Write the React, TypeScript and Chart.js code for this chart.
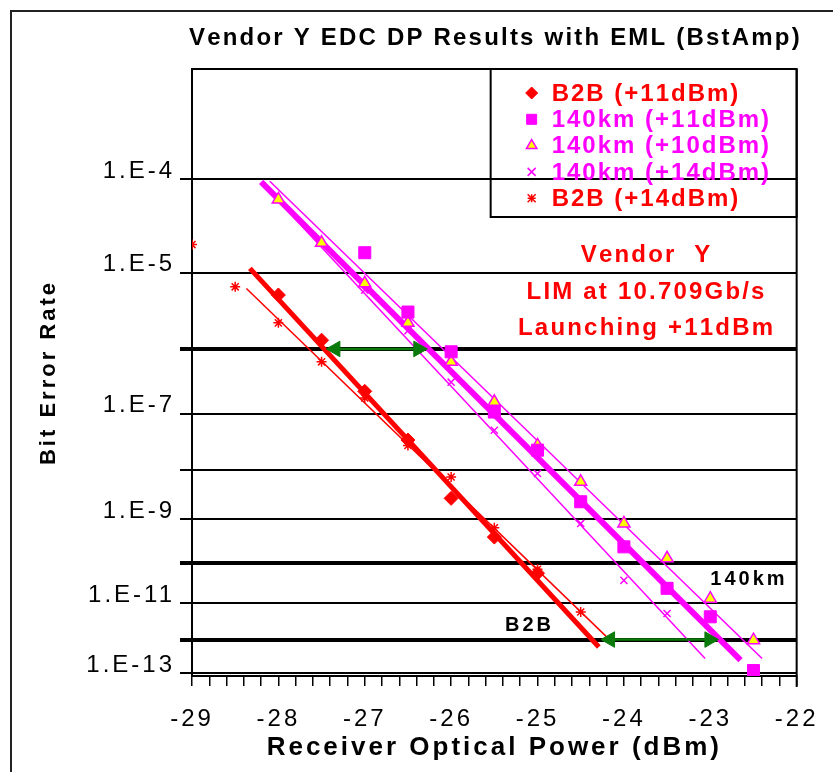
import React, { useEffect, useRef } from 'react';
import { Chart, registerables } from 'chart.js';

Chart.register(...registerables);

const FONT = '"Liberation Sans", Arial, Helvetica, sans-serif';
const RED = '#ff0000';
const MAG = '#ff00ff';
const YEL = '#ffff00';
const GREEN = '#0a7a0a';

// ---- axes ----
const xMin = -29;
const xMax = -22;
const xStep = 0.2;
const berAxisTop = 8.37e-4;
const berAxisBottom = 8.13e-14;
const berTicks = [1e-4, 1e-5, 1e-6, 1e-7, 1e-8, 1e-9, 1e-10, 1e-11, 1e-12, 1e-13];
const berTickLabels = ['1.E-4', '1.E-5', '', '1.E-7', '', '1.E-9', '', '1.E-11', '', '1.E-13'];
const berThickLines = [1e-6, 1e-10, 1e-12];

// ---- measured series ----
const b2b11Power = [-28, -27.5, -27, -26.5, -26, -25.5, -25];
const b2b11Ber = [5.3e-6, 1.33e-6, 2.3e-7, 3.5e-8, 2.7e-9, 4.0e-10, 5.7e-11];

const km140p11Power = [-27, -26.5, -26, -25.5, -25, -24.5, -24, -23.5, -23, -22.5];
const km140p11Ber = [1.7e-5, 3.2e-6, 9.1e-7, 1.06e-7, 2.3e-8, 2.3e-9, 2.4e-10, 2.4e-11, 4.3e-12, 1.2e-13];

const km140p10Power = [-28, -27.5, -27, -26.5, -26, -25.5, -25, -24.5, -24, -23.5, -23, -22.5];
const km140p10Ber = [6.3e-5, 2.2e-5, 7.4e-6, 2.3e-6, 6.5e-7, 1.56e-7, 2.8e-8, 5.8e-9, 8.0e-10, 1.3e-10, 1.3e-11, 9.6e-13];

const km140p14Power = [-27, -26.5, -26, -25.5, -25, -24.5, -24, -23.5];
const km140p14Ber = [6.1e-6, 1.8e-6, 3.2e-7, 5.2e-8, 8.4e-9, 8.0e-10, 3.8e-11, 5.3e-12];

const b2b14Power = [-29, -28.5, -28, -27.5, -27, -26.5, -26, -25.5, -25, -24.5];
const b2b14Ber = [2.1e-5, 6.7e-6, 2.3e-6, 6.5e-7, 1.8e-7, 2.8e-8, 7.2e-9, 6.4e-10, 7.1e-11, 5.8e-12];

// ---- fitted lines (end points) ----
const fitB2b11Power = [-28.33, -24.29];
const fitB2b11Ber = [1.12e-5, 6.1e-13];
const fitB2b14Power = [-28.37, -24.2];
const fitB2b14Ber = [6.4e-6, 1.19e-12];
const fit140p11Power = [-28.2, -22.65];
const fit140p11Ber = [9.4e-5, 2.5e-13];
const fit140p10Power = [-28.1, -22.4];
const fit140p10Ber = [9.5e-5, 2.8e-13];
const fit140p14Power = [-28.16, -23.06];
const fit140p14Ber = [8.5e-5, 2.8e-13];

// ---- penalty arrows ----
const arrowLevels = [1e-6, 1e-12];
const arrowLowPower = [-27.34, -24.16];
const arrowHighPower = [-26.38, -23.01];

// ---- annotations ----
const noteLines = ['Vendor  Y', 'LIM at 10.709Gb/s', 'Launching +11dBm'];
const notePower = -23.75;
const noteBer = [1.59e-5, 5.7e-6, 1.95e-6];
const tagTexts = ['140km', 'B2B'];
const tagPower = [-22.57, -25.11];
const tagBer = [4.1e-11, 2.5e-12];

const chartTitle = 'Vendor Y EDC DP Results with EML (BstAmp)';
const xTitle = 'Receiver Optical Power (dBm)';
const yTitle = 'Bit Error Rate';

// BER -> log(-log(BER)) transform
const tf = (b: number) => Math.log10(-Math.log10(b));
const toPts = (xs: number[], bs: number[]) => xs.map((x, i) => ({ x, y: tf(bs[i]) }));

type MarkerDef = {
  label: string; power: number[]; ber: number[]; style: string;
  color: string; fill: string; radius: number; lw: number; legendR: number;
};

const markerSeries: MarkerDef[] = [
  { label: 'B2B (+11dBm)', power: b2b11Power, ber: b2b11Ber, style: 'rectRot', color: RED, fill: RED, radius: 7, lw: 1, legendR: 6 },
  { label: '140km (+11dBm)', power: km140p11Power, ber: km140p11Ber, style: 'rect', color: MAG, fill: MAG, radius: 8.5, lw: 1, legendR: 5 },
  { label: '140km (+10dBm)', power: km140p10Power, ber: km140p10Ber, style: 'triangle', color: MAG, fill: YEL, radius: 7, lw: 1.5, legendR: 6 },
  { label: '140km (+14dBm)', power: km140p14Power, ber: km140p14Ber, style: 'crossRot', color: MAG, fill: MAG, radius: 5, lw: 1.5, legendR: 4 },
  { label: 'B2B (+14dBm)', power: b2b14Power, ber: b2b14Ber, style: 'star', color: RED, fill: RED, radius: 5, lw: 1.5, legendR: 4 },
];

const fitSeries = [
  { power: fitB2b11Power, ber: fitB2b11Ber, color: RED, width: 5 },
  { power: fitB2b14Power, ber: fitB2b14Ber, color: RED, width: 1.5 },
  { power: fit140p11Power, ber: fit140p11Ber, color: MAG, width: 6 },
  { power: fit140p10Power, ber: fit140p10Ber, color: MAG, width: 1.5 },
  { power: fit140p14Power, ber: fit140p14Ber, color: MAG, width: 1.5 },
];

function spacedWidth(ctx: CanvasRenderingContext2D, text: string, sp: number) {
  let w = 0;
  for (const ch of text) w += ctx.measureText(ch).width + sp;
  return w - sp;
}

function drawSpaced(ctx: CanvasRenderingContext2D, text: string, x: number, y: number, sp: number, align: string) {
  const w = spacedWidth(ctx, text, sp);
  let cx = align === 'center' ? x - w / 2 : align === 'right' ? x - w : x;
  ctx.textAlign = 'left';
  for (const ch of text) {
    ctx.fillText(ch, cx, y);
    cx += ctx.measureText(ch).width + sp;
  }
}

function drawMarker(ctx: CanvasRenderingContext2D, style: string, x: number, y: number, r: number, fill: string, stroke: string, lw: number) {
  ctx.save();
  ctx.beginPath();
  ctx.lineWidth = lw;
  ctx.fillStyle = fill;
  ctx.strokeStyle = stroke;
  if (style === 'rectRot') {
    ctx.moveTo(x, y - r); ctx.lineTo(x + r, y); ctx.lineTo(x, y + r); ctx.lineTo(x - r, y); ctx.closePath();
    ctx.fill(); ctx.stroke();
  } else if (style === 'rect') {
    ctx.rect(x - r, y - r, 2 * r, 2 * r); ctx.fill(); ctx.stroke();
  } else if (style === 'triangle') {
    ctx.moveTo(x, y - r); ctx.lineTo(x + r * 0.87, y + r * 0.5); ctx.lineTo(x - r * 0.87, y + r * 0.5); ctx.closePath();
    ctx.fill(); ctx.stroke();
  } else if (style === 'crossRot') {
    ctx.moveTo(x - r, y - r); ctx.lineTo(x + r, y + r); ctx.moveTo(x + r, y - r); ctx.lineTo(x - r, y + r); ctx.stroke();
  } else {
    ctx.moveTo(x - r, y - r); ctx.lineTo(x + r, y + r); ctx.moveTo(x + r, y - r); ctx.lineTo(x - r, y + r);
    ctx.moveTo(x, y - r); ctx.lineTo(x, y + r); ctx.moveTo(x - r, y); ctx.lineTo(x + r, y); ctx.stroke();
  }
  ctx.restore();
}

const decorPlugin = {
  id: 'decor',
  beforeDraw(chart: any) {
    const ctx = chart.ctx;
    ctx.save();
    ctx.fillStyle = '#ffffff';
    ctx.fillRect(0, 0, chart.width, chart.height);
    ctx.restore();
    (ctx as any).letterSpacing = '3px';
  },
  beforeDatasetsDraw(chart: any) {
    const ctx = chart.ctx;
    (ctx as any).letterSpacing = '0px';
    const { left, right, top, bottom } = chart.chartArea;
    ctx.save();
    ctx.strokeStyle = '#000';
    ctx.lineWidth = 2;
    ctx.beginPath();
    ctx.moveTo(left, top); ctx.lineTo(right, top);
    ctx.moveTo(right, top); ctx.lineTo(right, bottom + 11);
    ctx.stroke();
    ctx.restore();
  },
  afterDraw(chart: any) {
    const ctx: CanvasRenderingContext2D = chart.ctx;
    (ctx as any).letterSpacing = '0px';
    const { left, right, top } = chart.chartArea;
    const xs = chart.scales.x;
    const ys = chart.scales.y;
    ctx.save();

    // outer frame
    ctx.strokeStyle = '#222';
    ctx.lineWidth = 2;
    ctx.strokeRect(11, 11, 1000, 1000);

    // title
    ctx.fillStyle = '#000';
    ctx.font = `bold 24px ${FONT}`;
    ctx.textBaseline = 'middle';
    drawSpaced(ctx, chartTitle, (left + right) / 2, 38, 2.2, 'center');

    // legend box
    const bw = 306, bh = 148;
    const bx = right - bw, by = top;
    ctx.strokeStyle = '#000';
    ctx.lineWidth = 2;
    ctx.strokeRect(bx, by, bw, bh);
    ctx.font = `bold 24px ${FONT}`;
    markerSeries.forEach((s, i) => {
      const cy = by + 24 + i * 26.3;
      drawMarker(ctx, s.style, bx + 41, cy, s.legendR, s.fill, s.color, s.lw);
      ctx.fillStyle = s.color;
      drawSpaced(ctx, s.label, bx + 61, cy + 1, 2, 'left');
    });

    // vendor note
    ctx.fillStyle = RED;
    ctx.font = `bold 24px ${FONT}`;
    noteLines.forEach((t, i) => {
      drawSpaced(ctx, t, xs.getPixelForValue(notePower), ys.getPixelForValue(tf(noteBer[i])), 2.2, 'center');
    });

    // tags
    ctx.fillStyle = '#000';
    ctx.font = `bold 20px ${FONT}`;
    tagTexts.forEach((t, i) => {
      drawSpaced(ctx, t, xs.getPixelForValue(tagPower[i]), ys.getPixelForValue(tf(tagBer[i])), 3, 'center');
    });
    ctx.restore();
  },
};

export default function App() {
  const ref = useRef<HTMLCanvasElement>(null);
  useEffect(() => {
    const canvas = ref.current;
    if (!canvas) return;

    const datasets: any[] = [];
    markerSeries.forEach((s) => {
      datasets.push({
        label: s.label,
        data: toPts(s.power, s.ber),
        showLine: false,
        pointStyle: s.style,
        pointRadius: s.radius,
        pointHoverRadius: s.radius,
        pointBackgroundColor: s.fill,
        pointBorderColor: s.color,
        pointBorderWidth: s.lw,
        backgroundColor: s.fill,
        borderColor: s.color,
        order: 0,
      });
    });
    fitSeries.forEach((f) => {
      datasets.push({
        label: 'fit',
        data: toPts(f.power, f.ber),
        showLine: true,
        pointRadius: 0,
        borderColor: f.color,
        borderWidth: f.width,
        order: 2,
      });
    });
    arrowLevels.forEach((lvl, i) => {
      datasets.push({
        label: 'penalty',
        data: toPts([arrowLowPower[i], arrowHighPower[i]], [lvl, lvl]),
        showLine: true,
        borderColor: GREEN,
        borderWidth: 2.5,
        pointStyle: 'triangle',
        pointRotation: [-90, 90],
        pointRadius: 9,
        pointBackgroundColor: GREEN,
        pointBorderColor: GREEN,
        pointBorderWidth: 1,
        order: 1,
      });
    });

    const chart = new Chart(canvas, {
      type: 'scatter',
      data: { datasets },
      options: {
        responsive: false,
        devicePixelRatio: 1,
        animation: false,
        events: [],
        layout: { padding: { top: 69, right: 35, left: 0, bottom: 0 } },
        plugins: {
          legend: { display: false },
          title: { display: false },
          tooltip: { enabled: false },
        },
        scales: {
          x: {
            type: 'linear',
            min: xMin,
            max: xMax,
            afterFit: (s: any) => { s.height = 96; },
            ticks: {
              stepSize: xStep,
              autoSkip: false,
              maxRotation: 0,
              padding: 19,
              color: '#000',
              font: { family: FONT, size: 24 },
              callback: (v: any) => {
                const n = Number(v);
                return Math.abs(n - Math.round(n)) < 1e-6 ? String(Math.round(n)) : '';
              },
            },
            grid: { display: true, drawOnChartArea: false, drawTicks: true, tickLength: 10, color: '#000', lineWidth: 1.5 },
            border: { display: true, color: '#000', width: 2 },
            title: {
              display: true,
              text: xTitle,
              color: '#000',
              font: { family: FONT, size: 26, weight: 'bold' },
              padding: { top: 0, bottom: 9 },
            },
          },
          y: {
            type: 'linear',
            reverse: true,
            min: tf(berAxisTop),
            max: tf(berAxisBottom),
            afterFit: (s: any) => { s.width = 192; },
            afterBuildTicks: (s: any) => { s.ticks = berTicks.map((b) => ({ value: tf(b) })); },
            ticks: {
              autoSkip: false,
              padding: 5,
              labelOffset: -8,
              color: '#000',
              font: { family: FONT, size: 24 },
              callback: (_v: any, i: number) => berTickLabels[i] ?? '',
            },
            grid: {
              display: true,
              drawOnChartArea: true,
              drawTicks: true,
              tickLength: 12,
              color: '#000',
              lineWidth: (c: any) => {
                const v = c.tick ? c.tick.value : NaN;
                return berThickLines.some((b) => Math.abs(tf(b) - v) < 1e-9) ? 4 : 2;
              },
            },
            border: { display: true, color: '#000', width: 2 },
            title: {
              display: true,
              text: yTitle,
              color: '#000',
              font: { family: FONT, size: 22, weight: 'bold' },
              padding: { top: 36, bottom: 0 },
            },
          },
        },
      } as any,
      plugins: [decorPlugin],
    });
    return () => chart.destroy();
  }, []);

  return (
    <div style={{ position: 'fixed', left: 0, top: 0, width: 833, height: 772, background: '#fff' }}>
      <canvas ref={ref} width={833} height={772} style={{ display: 'block', width: 833, height: 772 }} />
    </div>
  );
}
